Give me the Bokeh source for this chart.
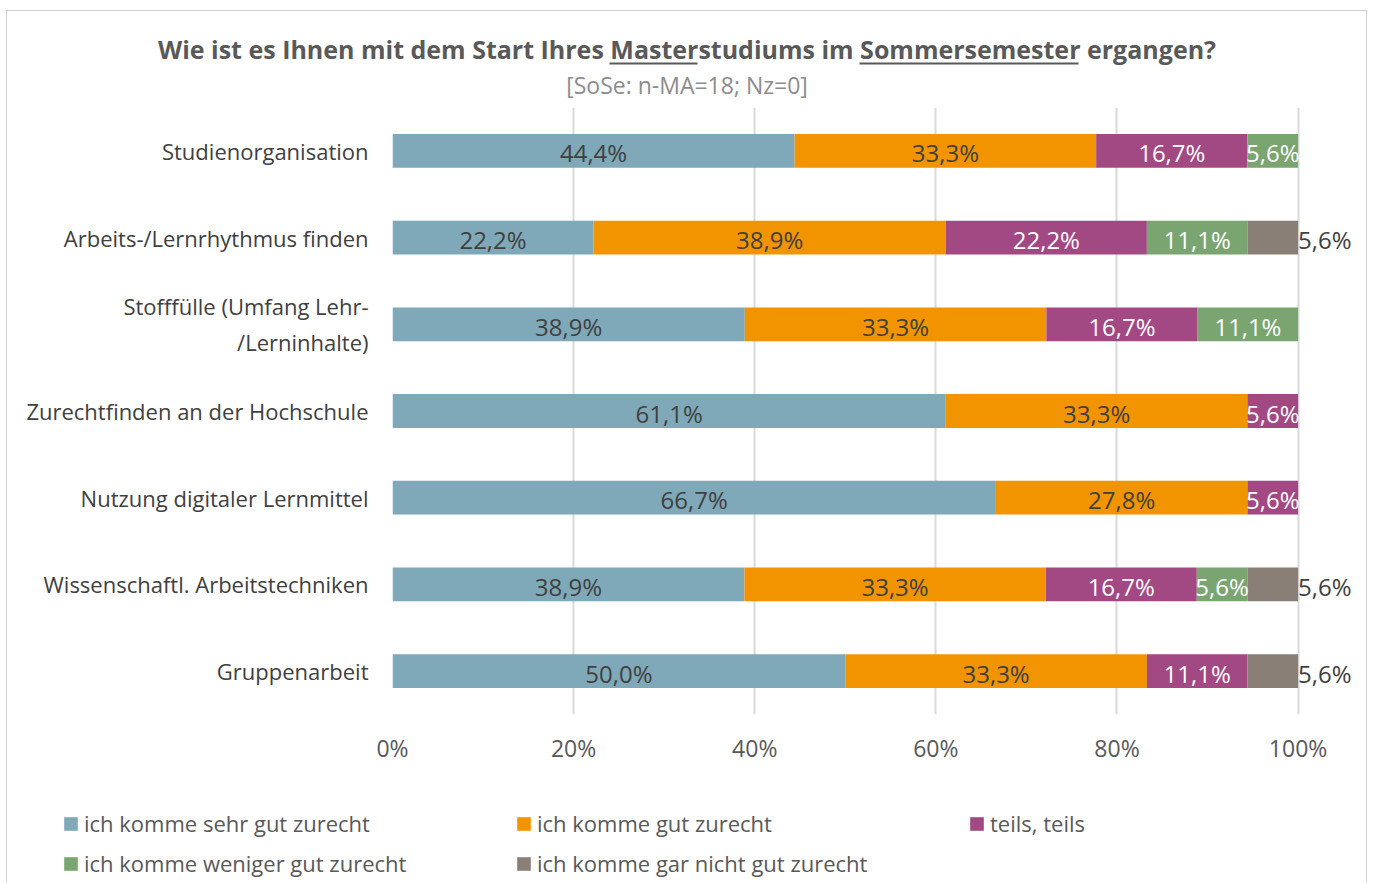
import numpy as np
from bokeh.plotting import figure
from bokeh.layouts import column
from bokeh.models import (ColumnDataSource, Legend, LegendItem,
                          FactorRange, Range1d, FixedTicker)
from bokeh.core.properties import value
from bokeh.embed import file_html
from bokeh.resources import INLINE

# ---------------- data ----------------
categories = [
    "Studienorganisation",
    "Arbeits-/Lernrhythmus finden",
    "Stofffülle (Umfang Lehr-\n/Lerninhalte)",
    "Zurechtfinden an der Hochschule",
    "Nutzung digitaler Lernmittel",
    "Wissenschaftl. Arbeitstechniken",
    "Gruppenarbeit",
]
series_names = [
    "ich komme sehr gut zurecht",
    "ich komme gut zurecht",
    "teils, teils",
    "ich komme weniger gut zurecht",
    "ich komme gar nicht gut zurecht",
]
sehr_gut = [44.4, 22.2, 38.9, 61.1, 66.7, 38.9, 50.0]
gut = [33.3, 38.9, 33.3, 33.3, 27.8, 33.3, 33.3]
teils = [16.7, 22.2, 16.7, 5.6, 5.6, 16.7, 11.1]
weniger = [5.6, 11.1, 11.1, 0.0, 0.0, 5.6, 0.0]
gar_nicht = [0.0, 5.6, 0.0, 0.0, 0.0, 5.6, 5.6]

x_ticks = [0, 20, 40, 60, 80, 100]
x_tick_labels = ["0%", "20%", "40%", "60%", "80%", "100%"]

title = "Wie ist es Ihnen mit dem Start Ihres Masterstudiums im Sommersemester ergangen?"
subtitle = "[SoSe: n-MA=18; Nz=0]"

# ---------------- style ----------------
colors = ["#7FA9B8", "#F29400", "#A24883", "#7AA570", "#897F77"]
label_colors = ["#404040", "#404040", "#FFFFFF", "#FFFFFF", "#404040"]
FONT = "Open Sans"
W = 1359                      # inner width (inside the light border)


def bare_figure(height, y_range):
    f = figure(width=W, height=height, output_backend="svg", toolbar_location=None,
               x_range=Range1d(0, W), y_range=y_range,
               x_axis_location=None, y_axis_location=None,
               min_border=0, min_border_left=0, min_border_right=0,
               min_border_top=0, min_border_bottom=0)
    f.outline_line_color = None
    f.xgrid.grid_line_color = None
    f.ygrid.grid_line_color = None
    try:
        f.frame_align = False
    except Exception:
        pass
    return f


# ---------------- header figure ----------------
HT = 89
top = bare_figure(HT, Range1d(0, HT))
top.text(x=[W / 2], y=[52], text=[title], text_align="center", text_baseline="middle",
         text_font=value(FONT), text_font_size="25px", text_font_style="bold",
         text_color="#595959")
top.text(x=[W / 2], y=[16], text=[subtitle], text_align="center", text_baseline="middle",
         text_font=value(FONT), text_font_size="23px", text_color="#8C8C8C")
# underline of "Master" and "Sommersemester"
ul_x0 = [602, 852]
ul_x1 = [690, 1071]
top.segment(x0=ul_x0, x1=ul_x1, y0=[37, 37], y1=[37, 37], line_color="#595959", line_width=2)

# ---------------- main chart ----------------
BL, BT = 385, 7
PX_PER_PCT = 9.06
X_END = 107
FW = int(round(PX_PER_PCT * X_END))
FH = 607
BR = W - BL - FW
BB = 52
HM = BT + FH + BB

series = [sehr_gut, gut, teils, weniger, gar_nicht]
vals = np.array(series, dtype=float)          # (5, 7)
totals = vals.sum(axis=0)
norm = vals / totals * 100.0                   # 100 % stacked

keys = ["s%d" % i for i in range(len(series))]
data = {"cat": categories}
for k, row in zip(keys, norm):
    data[k] = list(row)
source = ColumnDataSource(data)

p = figure(width=W, height=HM, output_backend="svg", toolbar_location=None,
           y_range=FactorRange(factors=list(reversed(categories))),
           x_range=Range1d(0, X_END),
           min_border_left=BL, min_border_right=BR, min_border_top=BT, min_border_bottom=BB)
p.outline_line_color = None
p.background_fill_color = "white"
p.border_fill_color = "white"

renderers = p.hbar_stack(keys, y="cat", height=0.39, color=colors, line_color=None, source=source)

# segment labels
lx, ly, lt, lc, la = [], [], [], [], []
for i, row in enumerate(norm):
    left = norm[:i].sum(axis=0)
    for j, v in enumerate(row):
        if vals[i, j] <= 0:
            continue
        txt = ("%.1f%%" % vals[i, j]).replace(".", ",")
        if i == len(series) - 1:
            lx.append(left[j] + v)
            la.append("left")
        else:
            lx.append(left[j] + v / 2.0)
            la.append("center")
        ly.append(categories[j])
        lt.append(txt)
        lc.append(label_colors[i])
lsrc = ColumnDataSource(dict(x=lx, y=ly, t=lt, c=lc, a=la))
p.text(x="x", y="y", text="t", text_color="c", text_align="a", text_baseline="middle",
       y_offset=2, text_font=value(FONT), text_font_size="24px", source=lsrc)

# axes
p.xaxis.ticker = FixedTicker(ticks=x_ticks)
p.xaxis.major_label_overrides = {t: l for t, l in zip(x_ticks, x_tick_labels)}
p.xaxis.axis_line_color = None
p.xaxis.major_tick_line_color = None
p.xaxis.minor_tick_line_color = None
p.xaxis.major_label_text_font = FONT
p.xaxis.major_label_text_font_size = "23px"
p.xaxis.major_label_text_color = "#595959"
p.xaxis.major_label_standoff = 11

p.yaxis.axis_line_color = None
p.yaxis.major_tick_line_color = None
p.yaxis.minor_tick_line_color = None
p.yaxis.major_label_text_font = FONT
p.yaxis.major_label_text_font_size = "22px"
p.yaxis.major_label_text_color = "#404040"
p.yaxis.major_label_standoff = 18

p.ygrid.grid_line_color = None
p.xgrid.ticker = FixedTicker(ticks=x_ticks)
p.xgrid.grid_line_color = "#D9D9D9"
p.xgrid.grid_line_width = 2

# ---------------- legend figure ----------------
HB = 883 - 11 - HT - HM
bot = bare_figure(HB, FactorRange(factors=categories))
leg_renderers = bot.hbar_stack(keys, y="cat", height=0.39, color=colors, line_color=None,
                               source=source, visible=False)
items = [LegendItem(label=n, renderers=[r]) for n, r in zip(series_names, leg_renderers)]
legend = Legend(items=items, location=(55, 5),
                orientation="horizontal", ncols=3,
                glyph_width=17, glyph_height=17, label_standoff=5, label_width=421,
                label_height=24, spacing=10, padding=0, margin=0,
                border_line_color=None, background_fill_alpha=0,
                inactive_fill_alpha=0,
                label_text_font=FONT, label_text_font_size="22px", label_text_color="#595959")
bot.add_layout(legend, "center")

layout = column(top, p, bot, spacing=0, margin=(10, 0, 0, 6),
                styles={"border": "1px solid #D0D0D0", "border-bottom": "none"})

open("out.html", "w").write(file_html(layout, INLINE))
